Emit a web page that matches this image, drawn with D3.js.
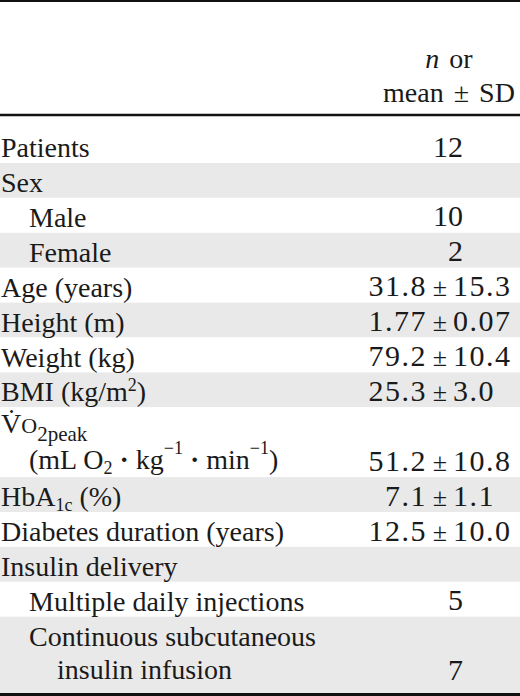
<!DOCTYPE html>
<html>
<head>
<meta charset="utf-8">
<script src="https://cdn.jsdelivr.net/npm/d3@7"></script>
<style>
  html, body { margin: 0; padding: 0; background: #fff; }
  svg text { font-family: 'Liberation Serif', 'Times New Roman', serif; fill: #1a1a1a; }
</style>
</head>
<body>
<div id="chart"></div>
<script>
// row labels, each line as list of [text, kind] parts
const labelLine1 = [
  [['Patients', '']],
  [['Sex', '']],
  [['Male', '']],
  [['Female', '']],
  [['Age (years)', '']],
  [['Height (m)', '']],
  [['Weight (kg)', '']],
  [['BMI (kg/m', ''], ['2', 'sup'], [')', '']],
  [['V\u0307', ''], ['O', 'sc'], ['2peak', 'sub2']],
  [['HbA', ''], ['1c', 'sub'], [' (%)', '']],
  [['Diabetes duration (years)', '']],
  [['Insulin delivery', '']],
  [['Multiple daily injections', '']],
  [['Continuous subcutaneous', '']]
]
const labelLine2 = [
  null, null, null, null, null, null, null, null,
  [['(mL O', ''], ['2', 'sub'], [' ', ''], ['\u00b7', 'dot'], [' kg', ''], ['\u22121', 'sup2'],
   [' ', ''], ['\u00b7', 'dot'], [' min', ''], ['\u22121', 'sup2'], [')', '']],
  null, null, null, null,
  [['insulin infusion', '']]
]
const levels = [0, 0, 1, 1, 0, 0, 0, 0, 0, 0, 0, 0, 1, 1]

const nValues = [12, null, 10, 2, null, null, null, null, null, null, null, null, 5, 7]
const meanValues = [null, null, null, null, 31.8, 1.77, 79.2, 25.3, 51.2, 7.1, 12.5, null, null, null]
const sdValues = [null, null, null, null, 15.3, 0.07, 10.4, 3.0, 10.8, 1.1, 10.0, null, null, null]
const decimals = [0, 0, 0, 0, 1, 2, 1, 1, 1, 1, 1, 0, 0, 0]

const headerLines = [[['n', 'i'], [' or', '']], [['mean \u00b1 SD', '']]]

const width = 520
const height = 696
const fontSize = 28
const numSize = 30
const unit = 34.9

const rows = labelLine1.map((l, i) => ({
  l1: l,
  l2: labelLine2[i],
  level: levels[i],
  n: nValues[i],
  mean: meanValues[i],
  sd: sdValues[i],
  dec: decimals[i],
  lines: labelLine2[i] ? 2 : 1
}))
let acc = 0
rows.forEach(r => {
  r.start = acc
  acc += r.lines
})
const totalUnits = acc

const y = d3.scaleLinear()
  .domain([0, totalUnits])
  .range([128.1, 128.1 + totalUnits * unit])

const x = d3.scaleOrdinal()
  .domain(['label', 'indent', 'indent2', 'pm', 'n', 'head'])
  .range([1, 29, 57, 440, 463, 449])

const svg = d3.select('#chart')
  .append('svg')
  .attr('width', width)
  .attr('height', height)

// alternating stripes
svg.selectAll('.stripe')
  .data(rows)
  .enter()
  .append('rect')
  .attr('class', 'stripe')
  .attr('x', 0)
  .attr('width', width)
  .attr('y', d => y(d.start))
  .attr('height', (d, i) => i === rows.length - 1 ? height - y(d.start) : y(d.start + d.lines) - y(d.start))
  .attr('fill', (d, i) => i % 2 === 1 ? '#e9e9e9' : '#fff')

const shifts = { sup: -10, sup2: -15, sub: 5, sub2: 8 }
const sizes = { sup: 18, sup2: 18, sub: 18, sub2: 21, sc: 22 }

function addParts(sel, parts) {
  let off = 0
  parts.forEach(([t, kind]) => {
    const target = shifts[kind] || 0
    const ts = sel.append('tspan').attr('dy', target - off).text(t)
    if (sizes[kind]) ts.attr('font-size', sizes[kind])
    if (kind === 'i') ts.attr('font-style', 'italic')
    if (kind === 'dot') ts.attr('font-weight', 'bold')
    off = target
  })
}

const g = svg.selectAll('.row')
  .data(rows)
  .enter()
  .append('g')
  .attr('class', 'row')

g.each(function(d) {
  const el = d3.select(this)
  const base = y(d.start) + (d.l2 && d.level === 0 ? 26 : 29)
  const t1 = el.append('text')
    .attr('x', d.level ? x('indent') : x('label'))
    .attr('y', base)
    .attr('font-size', fontSize)
  addParts(t1, d.l1)
  if (d.l2) {
    const t2 = el.append('text')
      .attr('x', d.level ? x('indent2') : x('indent'))
      .attr('y', y(d.start + 1) + 27)
      .attr('font-size', fontSize)
    addParts(t2, d.l2)
  }
  const vy = y(d.start + d.lines - 1) + 28.5
  if (d.n !== null) {
    el.append('text')
      .attr('x', x('n'))
      .attr('y', vy)
      .attr('text-anchor', 'end')
      .attr('font-size', numSize)
      .text(d.n)
  }
  if (d.mean !== null) {
    el.append('text')
      .attr('x', x('pm') - 13)
      .attr('y', vy)
      .attr('text-anchor', 'end')
      .attr('font-size', numSize)
      .attr('letter-spacing', 1.5)
      .text(d.mean.toFixed(d.dec))
    el.append('text')
      .attr('x', x('pm'))
      .attr('y', vy)
      .attr('text-anchor', 'middle')
      .attr('font-size', 26)
      .text('\u00b1')
    el.append('text')
      .attr('x', x('pm') + 13)
      .attr('y', vy)
      .attr('text-anchor', 'start')
      .attr('font-size', numSize)
      .attr('letter-spacing', 1.5)
      .text(d.sd.toFixed(d.dec))
  }
})

// header
headerLines.forEach((parts, i) => {
  const t = svg.append('text')
    .attr('x', x('head'))
    .attr('y', 68 + i * 34)
    .attr('text-anchor', 'middle')
    .attr('font-size', fontSize)
    .attr('word-spacing', 3)
  addParts(t, parts)
})

// rules
svg.append('line').attr('x1', 0).attr('x2', width).attr('y1', 1).attr('y2', 1)
  .attr('stroke', '#111').attr('stroke-width', 2)
svg.append('line').attr('x1', 0).attr('x2', width).attr('y1', 115).attr('y2', 115)
  .attr('stroke', '#111').attr('stroke-width', 2.5)
svg.append('line').attr('x1', 0).attr('x2', width).attr('y1', 694.5).attr('y2', 694.5)
  .attr('stroke', '#111').attr('stroke-width', 3)
</script>
</body>
</html>
